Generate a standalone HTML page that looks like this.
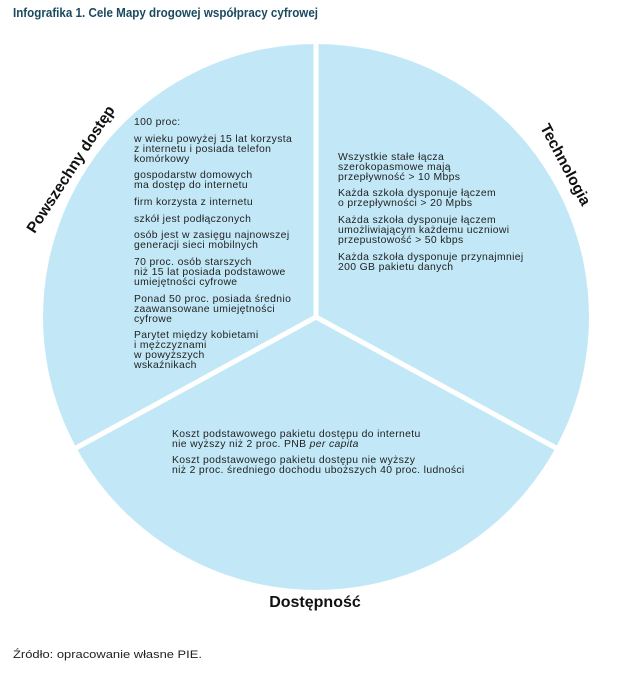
<!DOCTYPE html>
<html><head><meta charset="utf-8"><style>
body{margin:0;background:#fff;}
svg text{font-family:"Liberation Sans",sans-serif;}
</style></head><body>
<svg width="627" height="668" viewBox="0 0 627 668" xmlns="http://www.w3.org/2000/svg">
<text x="13" y="17" font-size="13" font-weight="bold" fill="#1b4a5f" textLength="305" lengthAdjust="spacingAndGlyphs">Infografika 1.  Cele Mapy drogowej współpracy cyfrowej</text>
<circle cx="316" cy="317" r="273" fill="#c2e8f7"/>
<g stroke="#fff" stroke-width="5">
<line x1="316" y1="317" x2="316" y2="40"/>
<line x1="316" y1="317" x2="76" y2="448"/>
<line x1="316" y1="317" x2="556" y2="448"/>
</g>
<text transform="translate(75,172) rotate(-57)" text-anchor="middle" font-size="15.5" font-weight="bold" fill="#111">Powszechny dostęp</text>
<text transform="translate(561,167) rotate(62)" text-anchor="middle" font-size="15.5" font-weight="bold" fill="#111">Technologia</text>
<text x="315" y="607" text-anchor="middle" font-size="16" font-weight="bold" fill="#111">Dostępność</text>
<g font-size="10.4" letter-spacing="0.35" fill="#222">
<text x="134" y="125">100 proc:</text>
<text x="134" y="142">w wieku powyżej 15 lat korzysta</text>
<text x="134" y="152">z internetu i posiada telefon</text>
<text x="134" y="162">komórkowy</text>
<text x="134" y="178">gospodarstw domowych</text>
<text x="134" y="188">ma dostęp do internetu</text>
<text x="134" y="205">firm korzysta z internetu</text>
<text x="134" y="222">szkół jest podłączonych</text>
<text x="134" y="238">osób jest w zasięgu najnowszej</text>
<text x="134" y="248">generacji sieci mobilnych</text>
<text x="134" y="265">70 proc. osób starszych</text>
<text x="134" y="275">niż 15 lat posiada podstawowe</text>
<text x="134" y="285">umiejętności cyfrowe</text>
<text x="134" y="302">Ponad 50 proc. posiada średnio</text>
<text x="134" y="312">zaawansowane umiejętności</text>
<text x="134" y="322">cyfrowe</text>
<text x="134" y="338">Parytet między kobietami</text>
<text x="134" y="348">i mężczyznami</text>
<text x="134" y="358">w powyższych</text>
<text x="134" y="368">wskaźnikach</text>
<text x="338" y="160">Wszystkie stałe łącza</text>
<text x="338" y="170">szerokopasmowe mają</text>
<text x="338" y="180">przepływność &gt; 10 Mbps</text>
<text x="338" y="196">Każda szkoła dysponuje łączem</text>
<text x="338" y="206">o przepływności &gt; 20 Mpbs</text>
<text x="338" y="223">Każda szkoła dysponuje łączem</text>
<text x="338" y="233">umożliwiającym każdemu uczniowi</text>
<text x="338" y="243">przepustowość &gt; 50 kbps</text>
<text x="338" y="260">Każda szkoła dysponuje przynajmniej</text>
<text x="338" y="270">200 GB pakietu danych</text>
<text x="172" y="437">Koszt podstawowego pakietu dostępu do internetu</text>
<text x="172" y="447">nie wyższy niż 2 proc. PNB <tspan font-style="italic">per capita</tspan></text>
<text x="172" y="463">Koszt podstawowego pakietu dostępu nie wyższy</text>
<text x="172" y="473">niż 2 proc. średniego dochodu uboższych 40 proc. ludności</text>
</g>
<text x="13" y="658" font-size="11" fill="#222" textLength="189" lengthAdjust="spacingAndGlyphs">Źródło: opracowanie własne PIE.</text>
</svg>
</body></html>
